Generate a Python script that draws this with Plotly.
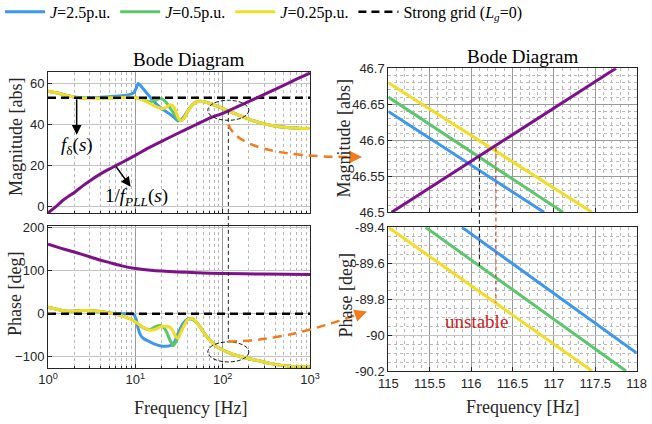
import numpy as np
import plotly.graph_objects as go

W, H = 652, 424
SERIF = "Liberation Serif, Times New Roman, serif"
SANS = "Liberation Sans, Arial, sans-serif"

# ---------------- data: left panel (Bode of f_delta and 1/f_PLL) ----------------
f_yellow = [1, 1.3, 1.6, 2, 2.5, 3, 4, 5, 7, 9, 10.4, 12, 14.7, 17, 19, 21, 23, 25, 27, 29, 31, 33,
            36, 40, 45, 50, 55, 62, 72, 85, 100, 116, 135, 160, 206, 260, 349, 450, 589, 800, 1000]
mag_yellow = [56.2, 55.3, 54.2, 53.3, 52.8, 52.6, 52.7, 52.9, 53.1, 53.2, 53.0, 52.0, 50.2, 48.8, 48.0,
              47.8, 48.5, 49.6, 49.0, 46.5, 43.2, 41.8, 43.0, 46.5, 49.5, 51.0, 51.3, 51.0, 50.2, 49.0,
              47.8, 46.6, 45.5, 44.2, 42.4, 41.0, 39.7, 38.9, 38.4, 38.1, 38.0]

f_green = [1, 1.3, 1.6, 2, 2.5, 3, 4, 5, 7, 9, 10.4, 12, 14.7, 17, 19.2, 21, 23, 25, 27, 29, 31, 33,
           36, 40, 45, 50, 55, 62, 72, 85, 100, 116, 135, 160, 206, 260, 349, 450, 589, 800, 1000]
mag_green = [56.2, 55.3, 54.2, 53.3, 52.8, 52.6, 52.7, 52.9, 53.1, 53.2, 53.0, 52.2, 51.0, 51.8, 52.6,
             52.0, 50.3, 48.0, 46.0, 44.0, 42.3, 41.8, 43.0, 46.5, 49.5, 51.0, 51.3, 51.0, 50.2, 49.0,
             47.8, 46.6, 45.5, 44.2, 42.4, 41.0, 39.7, 38.9, 38.4, 38.1, 38.0]

f_blue = [1, 1.3, 1.6, 2, 2.5, 3, 4, 5, 7, 8.5, 9.5, 10.2, 10.8, 11.5, 12.5, 14.7, 17, 19, 22, 25, 28,
          31, 33, 36, 40, 45, 50, 55, 62, 72, 85, 100, 116, 135, 160, 206, 260, 349, 450, 589, 800, 1000]
mag_blue = [56.2, 55.3, 54.2, 53.4, 53.0, 52.9, 53.2, 53.5, 54.0, 54.5, 55.2, 57.5, 59.9, 58.8, 57.0,
            53.4, 50.3, 48.5, 46.5, 45.0, 43.3, 41.8, 42.2, 43.8, 46.8, 49.6, 51.0, 51.3, 51.0, 50.2,
            49.0, 47.8, 46.6, 45.5, 44.2, 42.4, 41.0, 39.7, 38.9, 38.4, 38.1, 38.0]

ph_yellow = [15, 10, 6, 6, 7.5, 7.5, 5, 2, -5, -13, -21, -30, -38, -36, -31, -29, -29, -32, -40,
             -53, -56, -45, -28, -13, -11, -20, -30, -46, -62, -76, -84, -89.6, -95, -99, -105, -109,
             -115, -119, -121.5, -123, -123]
ph_green = [15, 10, 6, 6, 7.5, 7.5, 5, 2, -5, -13, -21, -31, -37, -30, -27, -31, -44, -62, -74, -66,
            -52, -40, -26, -13, -11, -20, -30, -46, -62, -76, -84, -89.6, -95, -99, -105, -109,
            -115, -119, -121.5, -123, -123]
ph_blue = [15, 10, 6, 6, 7.5, 7.5, 5, 2, 0, 0, -1, -12, -35, -50, -58, -65, -71, -74, -75.5, -74,
           -66, -45, -33, -20, -12, -13, -20, -30, -46, -62, -76, -84, -89.6, -95, -99, -105, -109,
           -115, -119, -121.5, -123, -123]

f_pll = [1, 1.3, 1.5, 2, 2.5, 3, 4, 5, 6, 8, 10, 14, 20, 30, 50, 70, 100, 116.1, 150, 200, 300, 500, 700, 1000]
mag_pll = [-3, 1, 3.3, 7, 10.2, 12.6, 16, 18.3, 20, 22.8, 25, 28.5, 31.8, 35.5, 40, 43, 45.4, 46.58,
           48.8, 51.2, 54.6, 59, 62, 65]
f_pll_ph = [1, 1.5, 2, 3, 4, 5, 7, 10, 15, 20, 30, 50, 100, 300, 1000]
ph_pll = [161, 150, 143, 132, 124, 119, 111, 105, 101, 99, 97, 95, 93, 92, 91]

f_strong = [1, 1000]
mag_strong = [53, 53]
ph_strong = [0, 0]

# ---------------- data: right panel (zoom around the crossing) ----------------
fz_blue_mag, zmag_blue = [115, 116.88], [46.64, 46.5]
fz_green_mag, zmag_green = [115, 117.11], [46.66, 46.5]
fz_yellow_mag, zmag_yellow = [115, 117.46], [46.68, 46.5]
fz_pll_mag, zmag_pll = [115.04, 117.75], [46.5, 46.7]
fz_blue_ph, zph_blue = [115.89, 118], [-89.4, -90.1]
fz_green_ph, zph_green = [115.45, 117.87], [-89.4, -90.2]
fz_yellow_ph, zph_yellow = [115, 117.46], [-89.4, -90.2]

f_cross_stable = 116.1     # J=0.5 crossing
f_cross_unstable = 116.3   # J=0.25 crossing
mag_cross_stable, ph_cross_stable = 46.577, -89.615
mag_cross_unstable, ph_cross_unstable = 46.59, -89.82

labels = ["<i>J</i>=2.5p.u.", "<i>J</i>=0.5p.u.", "<i>J</i>=0.25p.u.", "Strong grid (<i>L</i><sub><i>g</i></sub>=0)"]
colors = ["#3d97ee", "#5cc66c", "#f2dd26", "#000000"]
PURPLE = "#7e1189"
ORANGE = "#f07c1c"
RED = "#cc2222"

# ---------------- layout geometry ----------------
LX = (48 / W, 310 / W)
RX = (388.3 / W, 636.7 / W)
TL = (1 - 213 / H, 1 - 72 / H)
BL = (1 - 367.7 / H, 1 - 225.7 / H)
TR = (1 - 212.3 / H, 1 - 68.3 / H)
BR = (1 - 371 / H, 1 - 227.3 / H)
MAG_R = [-3, 65.5]
PH_R = [-125, 204]
ZMAG_R = [46.5, 46.7]
ZPH_R = [-90.2, -89.4]


def lxp(f):
    return LX[0] + np.log10(f) / 3 * (LX[1] - LX[0])


def rxp(f):
    return RX[0] + (f - 115) / 3 * (RX[1] - RX[0])


def yp(v, dom, rng):
    return dom[0] + (v - rng[0]) / (rng[1] - rng[0]) * (dom[1] - dom[0])


def px(x):
    return x / W


def py(y):
    return 1 - y / H


fig = go.Figure()

# left magnitude
for f, m, c, n in [(f_blue, mag_blue, colors[0], labels[0]), (f_green, mag_green, colors[1], labels[1]),
                   (f_yellow, mag_yellow, colors[2], labels[2])]:
    fig.add_trace(go.Scatter(x=f, y=m, mode="lines", line=dict(color=c, width=3, shape="spline", smoothing=0.6),
                             name=n, xaxis="x", yaxis="y", legendgroup=n))
fig.add_trace(go.Scatter(x=f_strong, y=mag_strong, mode="lines", line=dict(color="black", width=2.5, dash="8px,5px"),
                         name=labels[3], xaxis="x", yaxis="y"))
fig.add_trace(go.Scatter(x=f_pll, y=mag_pll, mode="lines", line=dict(color=PURPLE, width=3, shape="spline", smoothing=0.6),
                         showlegend=False, xaxis="x", yaxis="y"))
# left phase
for f, p, c in [(f_blue, ph_blue, colors[0]), (f_green, ph_green, colors[1]), (f_yellow, ph_yellow, colors[2])]:
    fig.add_trace(go.Scatter(x=f, y=p, mode="lines", line=dict(color=c, width=3, shape="spline", smoothing=0.6),
                             showlegend=False, xaxis="x2", yaxis="y2"))
fig.add_trace(go.Scatter(x=f_strong, y=ph_strong, mode="lines", line=dict(color="black", width=2.5, dash="8px,5px"),
                         showlegend=False, xaxis="x2", yaxis="y2"))
fig.add_trace(go.Scatter(x=f_pll_ph, y=ph_pll, mode="lines", line=dict(color=PURPLE, width=3, shape="spline", smoothing=0.6),
                         showlegend=False, xaxis="x2", yaxis="y2"))
# right magnitude
for f, m, c in [(fz_blue_mag, zmag_blue, colors[0]), (fz_green_mag, zmag_green, colors[1]),
                (fz_yellow_mag, zmag_yellow, colors[2]), (fz_pll_mag, zmag_pll, PURPLE)]:
    fig.add_trace(go.Scatter(x=f, y=m, mode="lines", line=dict(color=c, width=3),
                             showlegend=False, xaxis="x3", yaxis="y3"))
# right phase
for f, p, c in [(fz_blue_ph, zph_blue, colors[0]), (fz_green_ph, zph_green, colors[1]),
                (fz_yellow_ph, zph_yellow, colors[2])]:
    fig.add_trace(go.Scatter(x=f, y=p, mode="lines", line=dict(color=c, width=3),
                             showlegend=False, xaxis="x4", yaxis="y4"))

AX = dict(showline=True, mirror=True, linecolor="#262626", linewidth=1, ticks="inside", ticklen=4,
          tickcolor="#262626", zeroline=False, showgrid=True, gridcolor="#9a9a9a", gridwidth=1,
          automargin=False, tickfont=dict(family=SANS, size=13, color="#262626"))
log_minor = dict(tickvals=[m * 10 ** d for d in range(3) for m in range(2, 10)], showgrid=True,
                 gridcolor="#b8b8b8", griddash="dot", ticks="inside", ticklen=2, tickcolor="#262626")
log_ticks = dict(tickmode="array", tickvals=[1, 10, 100, 1000],
                 ticktext=["10<sup>0</sup>", "10<sup>1</sup>", "10<sup>2</sup>", "10<sup>3</sup>"])

fig.update_layout(
    width=W, height=H, margin=dict(l=0, r=0, t=0, b=0, autoexpand=False),
    paper_bgcolor="white", plot_bgcolor="white",
    xaxis=dict(AX, type="log", range=[0, 3], domain=LX, anchor="y", showticklabels=False,
               minor=log_minor, **log_ticks),
    yaxis=dict(AX, range=MAG_R, domain=TL, anchor="x", tickvals=[0, 20, 40, 60], gridcolor="#c4c4c4"),
    xaxis2=dict(AX, type="log", range=[0, 3], domain=LX, anchor="y2", minor=log_minor, **log_ticks),
    yaxis2=dict(AX, range=PH_R, domain=BL, anchor="x2", tickvals=[-100, 0, 100, 200], gridcolor="#c4c4c4"),
    xaxis3=dict(AX, range=[115, 118], domain=RX, anchor="y3", dtick=0.5, showticklabels=False,
                minor=dict(dtick=0.1, showgrid=True, gridcolor="#b8b8b8", griddash="dot")),
    yaxis3=dict(AX, range=ZMAG_R, domain=TR, anchor="x3", tickmode="array",
                tickvals=[46.5, 46.55, 46.6, 46.65, 46.7], ticktext=["46.5", "46.55", "46.6", "46.65", "46.7"],
                minor=dict(dtick=0.01, showgrid=True, gridcolor="#b8b8b8", griddash="dot")),
    xaxis4=dict(AX, range=[115, 118], domain=RX, anchor="y4", tickmode="array",
                tickvals=[115, 115.5, 116, 116.5, 117, 117.5, 118],
                ticktext=["115", "115.5", "116", "116.5", "117", "117.5", "118"],
                minor=dict(dtick=0.1, showgrid=True, gridcolor="#b8b8b8", griddash="dot")),
    yaxis4=dict(AX, range=ZPH_R, domain=BR, anchor="x4", tickmode="array",
                tickvals=[-90.2, -90, -89.8, -89.6, -89.4], ticktext=["-90.2", "-90", "-89.8", "-89.6", "-89.4"],
                gridcolor="#c4c4c4",
                minor=dict(dtick=0.05, showgrid=True, gridcolor="#b8b8b8", griddash="dot")),
    legend=dict(orientation="h", x=0.0, y=1.012, xanchor="left", yanchor="top",
                font=dict(family=SERIF, size=16, color="black"), bgcolor="rgba(0,0,0,0)",
                itemwidth=40, tracegroupgap=0),
    showlegend=True,
)

shapes = []
# vertical dashed line through left panels at crossing frequency
xc = lxp(f_cross_stable)
shapes.append(dict(type="line", xref="paper", yref="paper", x0=xc, x1=xc,
                   y0=yp(46.6, TL, MAG_R), y1=yp(-64, BL, PH_R),
                   line=dict(color="#222222", width=1, dash="4px,3px")))
# ellipses
for cy in [yp(46.9, TL, MAG_R), yp(-88.5, BL, PH_R)]:
    shapes.append(dict(type="circle", xref="paper", yref="paper", xsizemode="pixel", ysizemode="pixel",
                       xanchor=xc, yanchor=cy, x0=-20.5, x1=20.5, y0=-10, y1=10,
                       line=dict(color="#111111", width=1, dash="4px,2px")))
# right panel crossing markers
for f, m, p, col in [(f_cross_stable, mag_cross_stable, ph_cross_stable, "#111111"),
                     (f_cross_unstable, mag_cross_unstable, ph_cross_unstable, RED)]:
    x = rxp(f)
    shapes.append(dict(type="line", xref="paper", yref="paper", x0=x, x1=x,
                       y0=yp(m, TR, ZMAG_R), y1=yp(p, BR, ZPH_R),
                       line=dict(color=col, width=1, dash="4px,3px")))
# orange zoom connectors (quadratic curves)
s1 = (xc, yp(40, TL, MAG_R))
c1 = (px(240), py(157))
e1 = (px(352), py(157))
s2 = (xc, yp(-64, BL, PH_R))
c2 = (px(282), py(342))
e2 = (px(357), py(314.5))
for s, c, e in [(s1, c1, e1), (s2, c2, e2)]:
    shapes.append(dict(type="path", xref="paper", yref="paper",
                       path=f"M {s[0]},{s[1]} Q {c[0]},{c[1]} {e[0]},{e[1]}",
                       line=dict(color=ORANGE, width=2.5, dash="9px,6px")))
fig.update_layout(shapes=shapes)

C = dict(xanchor="center", yanchor="middle")
ann = []
# orange arrow heads
ann.append(dict(xref="paper", yref="paper", x=px(362), y=py(157), ax=-10, ay=0, text="", showarrow=True,
                arrowhead=2, arrowsize=1, arrowwidth=2.5, arrowcolor=ORANGE))
ann.append(dict(xref="paper", yref="paper", x=px(367), y=py(311.5), ax=-10, ay=3.5, text="", showarrow=True,
                arrowhead=2, arrowsize=1, arrowwidth=2.5, arrowcolor=ORANGE))
# black pointer arrows
ann.append(dict(xref="x", yref="y", x=np.log10(2.13), y=35.0, ax=0, ay=-37, text="", showarrow=True,
                arrowhead=2, arrowsize=1.3, arrowwidth=1.5, arrowcolor="black"))
ann.append(dict(xref="x", yref="y", x=np.log10(8.84), y=9.7, ax=-15.7, ay=-21.7, text="", showarrow=True,
                arrowhead=2, arrowsize=1.3, arrowwidth=1.5, arrowcolor="black"))
ann.append(dict(C, xref="x", yref="y", x=np.log10(2.13), y=29.5, text="<i>f</i><sub>δ</sub>(<i>s</i>)",
                showarrow=False, font=dict(family=SERIF, size=19, color="black")))
ann.append(dict(C, xref="x", yref="y", x=np.log10(10.4), y=5, text="1/<i>f</i><sub><i>PLL</i></sub>(<i>s</i>)",
                showarrow=False, font=dict(family=SERIF, size=19, color="black")))
ann.append(dict(C, xref="x4", yref="y4", x=116.06, y=-89.926, text="unstable", showarrow=False,
                font=dict(family=SERIF, size=19, color=RED)))
# titles
for x, y, t in [(188.8, 60, "Bode Diagram"), (523, 56.7, "Bode Diagram")]:
    ann.append(dict(C, xref="paper", yref="paper", x=px(x), y=py(y), text=t, showarrow=False,
                    font=dict(family=SERIF, size=19, color="black")))
for x, y, t in [(190.7, 408, "Frequency [Hz]"), (522.3, 407, "Frequency [Hz]")]:
    ann.append(dict(C, xref="paper", yref="paper", x=px(x), y=py(y), text=t, showarrow=False,
                    font=dict(family=SERIF, size=18, color="#262626")))
for x, y, t in [(16, 137, "Magnitude [abs]"), (15, 294, "Phase [deg]"),
                (344, 138.5, "Magnitude [abs]"), (345, 295.5, "Phase [deg]")]:
    ann.append(dict(C, xref="paper", yref="paper", x=px(x), y=py(y), text=t, showarrow=False, textangle=-90,
                    font=dict(family=SERIF, size=18, color="#262626")))
fig.update_layout(annotations=ann)

fig.write_html("out.html")
